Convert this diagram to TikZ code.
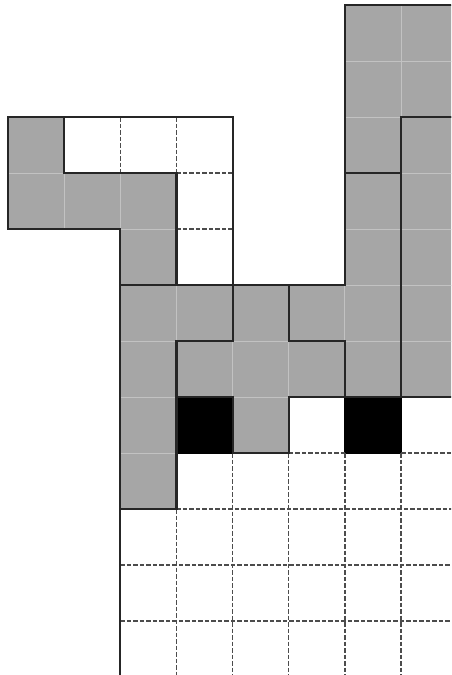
\documentclass[tikz,border=0pt]{standalone}
\definecolor{piecegray}{HTML}{A6A6A6}
\definecolor{seamgray}{HTML}{C2C2C2}
\tikzset{
  cellfill/.style={fill=piecegray, draw=seamgray, line width=0.9pt},
  blackcell/.style={fill=black, draw=black, line width=2.2pt},
  outline/.style={draw=black!85, line width=2.2pt, line join=miter, line cap=rect},
  gridline/.style={draw=black!70, line width=1.2pt, dash pattern=on 4.5pt off 2pt},
}
\begin{document}
\begin{tikzpicture}[x=56.15pt, y=-56pt]
\useasboundingbox (-8pt,5pt) rectangle (443pt,-670pt);
\clip (-8pt,5pt) rectangle (443pt,-670pt);
% gray cells (column, row)
\foreach \c/\r in {6/0,7/0,6/1,7/1,
                   0/2,6/2,7/2,
                   0/3,1/3,2/3,6/3,7/3,
                   2/4,6/4,7/4,
                   2/5,3/5,4/5,5/5,6/5,7/5,
                   2/6,3/6,4/6,5/6,6/6,7/6,
                   2/7,4/7,
                   2/8}
  \path[cellfill] (\c,\r) rectangle ++(1,1);
% black cells
\path[blackcell] (3,7) rectangle (4,8);
\path[blackcell] (6,7) rectangle (7,8);
% dashed grid lines in empty cells
\draw[gridline] (2,2) -- (2,3);
\draw[gridline] (3,2) -- (3,3);
\draw[gridline] (3,3) -- (4,3);
\draw[gridline] (3,4) -- (4,4);
\draw[gridline] (5,8) -- (6,8);
\draw[gridline] (7,8) -- (8.5,8);
\draw[gridline] (3,9) -- (8.5,9);
\foreach \y in {10,11} \draw[gridline] (2,\y) -- (8.5,\y);
\draw[gridline] (3,9) -- (3,12.5);
\foreach \x in {4,5,6,7} \draw[gridline] (\x,8) -- (\x,12.5);
% piece outlines
\draw[outline] (0,2) -- (1,2) -- (1,3) -- (3,3) -- (3,5) -- (2,5) -- (2,4) -- (0,4) -- cycle;
\draw[outline] (2,5) -- (4,5) -- (4,6) -- (3,6) -- (3,9) -- (2,9) -- cycle;
\draw[outline] (4,5) -- (5,5) -- (5,6) -- (6,6) -- (6,7) -- (5,7) -- (5,8) -- (4,8) -- (4,7) -- (3,7) -- (3,6) -- (4,6) -- cycle;
\draw[outline] (6,3) -- (7,3) -- (7,7) -- (6,7) -- (6,6) -- (5,6) -- (5,5) -- (6,5) -- cycle;
\draw[outline] (6,0) -- (8.5,0) (8,2) -- (7,2) -- (7,3) -- (6,3) -- (6,0);
\draw[outline] (7,2) -- (8.5,2) (8.5,7) -- (7,7) -- (7,2);
% board border
\draw[outline] (1,2) -- (4,2) -- (4,5);
\draw[outline] (2,9) -- (2,12.5);
\end{tikzpicture}
\end{document}
